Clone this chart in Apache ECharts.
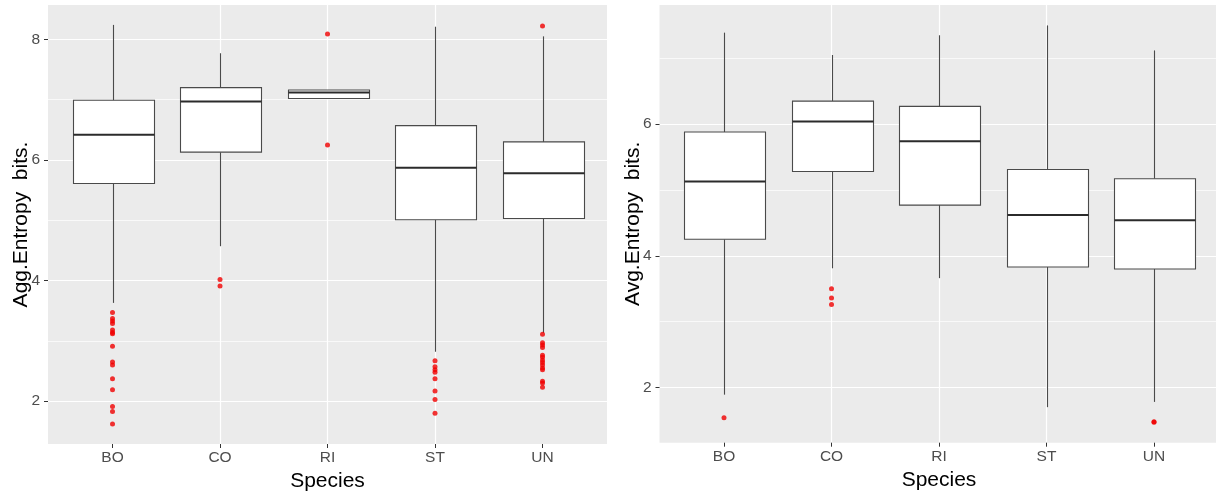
<!DOCTYPE html>
<html>
<head>
<meta charset="utf-8">
<script src="https://cdn.jsdelivr.net/npm/echarts@6/dist/echarts.min.js"></script>
<style>
html,body{margin:0;padding:0;background:#fff;}
#chart{width:1216px;height:492px;}
</style>
</head>
<body>
<div id="chart"></div>
<script>
// ---------- data ----------
const categories = ['BO', 'CO', 'RI', 'ST', 'UN'];
const yTicksAgg = [2, 4, 6, 8];
const yTicksAvg = [2, 4, 6];

// Left panel: Agg.Entropy
const aggLower  = [3.63, 4.57, 7.02, 2.82, 3.13];
const aggQ1     = [5.61, 6.13, 7.02, 5.01, 5.03];
const aggMedian = [6.42, 6.97, 7.12, 5.87, 5.78];
const aggQ3     = [6.99, 7.20, 7.16, 6.57, 6.30];
const aggUpper  = [8.24, 7.77, 7.16, 8.21, 8.05];
const aggOutliers = [
  [3.47, 3.37, 3.33, 3.29, 3.18, 3.14, 3.12, 2.91, 2.65, 2.60, 2.37, 2.19, 1.91, 1.83, 1.62],
  [4.02, 3.91],
  [8.09, 6.25],
  [2.67, 2.57, 2.52, 2.48, 2.37, 2.17, 2.03, 1.80],
  [8.22, 3.11, 2.97, 2.93, 2.89, 2.76, 2.73, 2.68, 2.64, 2.60, 2.55, 2.52, 2.33, 2.30, 2.23]
];

// Right panel: Avg.Entropy
const avgLower  = [1.89, 3.81, 3.66, 1.70, 1.78];
const avgQ1     = [4.25, 5.28, 4.77, 3.83, 3.80];
const avgMedian = [5.13, 6.04, 5.74, 4.62, 4.54];
const avgQ3     = [5.88, 6.35, 6.27, 5.31, 5.17];
const avgUpper  = [7.39, 7.05, 7.35, 7.50, 7.12];
const avgOutliers = [
  [1.54],
  [3.50, 3.36, 3.26],
  [],
  [],
  [1.48, 1.47]
];

// ---------- helpers ----------
const FONT = '"Liberation Sans", Arial, sans-serif';
const PANEL = '#ebebeb';

function boxRows(lo, q1, md, q3, hi) {
  return categories.map((c, i) => [i, lo[i], q1[i], md[i], q3[i], hi[i]]);
}
function outlierRows(out) {
  const rows = [];
  out.forEach((arr, i) => arr.forEach(v => rows.push([i, v])));
  return rows;
}
function renderBox(params, api) {
  const x = api.value(0);
  const lo = api.coord([x, api.value(1)]);
  const q1 = api.coord([x, api.value(2)]);
  const md = api.coord([x, api.value(3)]);
  const q3 = api.coord([x, api.value(4)]);
  const hi = api.coord([x, api.value(5)]);
  const w = api.size([0.75, 0])[0];
  const cx = Math.round(lo[0]) + 0.5;
  const left = Math.round(cx - w / 2) + 0.5;
  const right = Math.round(cx + w / 2) + 0.5;
  const line = '#4a4a4a';
  return {
    type: 'group',
    children: [
      {type: 'line', shape: {x1: cx, y1: lo[1], x2: cx, y2: q1[1]}, style: {stroke: line, lineWidth: 1.1}},
      {type: 'line', shape: {x1: cx, y1: q3[1], x2: cx, y2: hi[1]}, style: {stroke: line, lineWidth: 1.1}},
      {type: 'rect', shape: {x: left, y: q3[1], width: right - left, height: q1[1] - q3[1]},
        style: {fill: '#ffffff', stroke: line, lineWidth: 1.1}},
      {type: 'line', shape: {x1: left, y1: md[1], x2: right, y2: md[1]}, style: {stroke: '#2b2b2b', lineWidth: 2}}
    ]
  };
}

function xAxisFor(gridIndex) {
  return {
    type: 'value', gridIndex: gridIndex, min: -0.6, max: 4.6,
    name: 'Species', nameLocation: 'middle', nameGap: 27, nameMoveOverlap: false,
    nameTextStyle: {fontFamily: FONT, fontSize: 21, color: '#000'},
    axisLine: {show: false},
    axisTick: {show: true, length: 4, lineStyle: {color: '#333', width: 1}, customValues: [0, 1, 2, 3, 4]},
    axisLabel: {
      show: true, margin: 6, fontFamily: FONT, fontSize: 15.5, color: '#4d4d4d',
      customValues: [0, 1, 2, 3, 4],
      formatter: v => (Number.isInteger(v) && v >= 0 && v < categories.length) ? categories[v] : ''
    },
    splitLine: {show: true, showMinLine: false, showMaxLine: false, lineStyle: {color: '#ffffff', width: 1.2}}
  };
}
function yAxesFor(gridIndex, min, max, name, ticks) {
  return [
    {
      type: 'value', gridIndex: gridIndex, min: min, max: max, splitNumber: 6,
      name: name, nameLocation: 'middle', nameGap: 16, nameMoveOverlap: false,
      nameTextStyle: {fontFamily: FONT, fontSize: 21, color: '#000'},
      axisLine: {show: false}, axisTick: {show: false},
      axisLabel: {
        show: true, margin: 8, fontFamily: FONT, fontSize: 15.5, color: '#4d4d4d',
        showMinLabel: false, showMaxLabel: false,
        formatter: v => (ticks.indexOf(v) >= 0 ? String(v) : '')
      },
      splitLine: {show: true, showMinLine: false, showMaxLine: false,
        lineStyle: {color: ['#ffffff', 'rgba(255,255,255,0.7)'], width: 1.2}}
    },
    {
      type: 'value', gridIndex: gridIndex, min: min, max: max, position: 'left',
      axisLine: {show: false}, axisLabel: {show: false}, splitLine: {show: false},
      axisTick: {show: true, length: 4, lineStyle: {color: '#333', width: 1}, customValues: ticks}
    }
  ];
}

const chart = echarts.init(document.getElementById('chart'), null, {renderer: 'canvas'});
chart.setOption({
  backgroundColor: '#ffffff',
  animation: false,
  grid: [
    {left: 48, top: 5, width: 559, height: 439, show: true, backgroundColor: PANEL, borderWidth: 0, outerBoundsMode: 'none'},
    {left: 659.5, top: 5, width: 559, height: 437.7, show: true, backgroundColor: PANEL, borderWidth: 0, outerBoundsMode: 'none'}
  ],
  xAxis: [xAxisFor(0), xAxisFor(1)],
  yAxis: [].concat(
    yAxesFor(0, 1.29, 8.57, 'Agg.Entropy  bits.', yTicksAgg),
    yAxesFor(1, 1.16, 7.81, 'Avg.Entropy  bits.', yTicksAvg)
  ),
  series: [
    {type: 'custom', xAxisIndex: 0, yAxisIndex: 0, renderItem: renderBox,
      encode: {x: 0, y: [1, 2, 3, 4, 5]},
      data: boxRows(aggLower, aggQ1, aggMedian, aggQ3, aggUpper), z: 2},
    {type: 'scatter', xAxisIndex: 0, yAxisIndex: 0, symbolSize: 5,
      itemStyle: {color: '#f00000'}, data: outlierRows(aggOutliers), z: 3},
    {type: 'custom', xAxisIndex: 1, yAxisIndex: 2, renderItem: renderBox,
      encode: {x: 0, y: [1, 2, 3, 4, 5]},
      data: boxRows(avgLower, avgQ1, avgMedian, avgQ3, avgUpper), z: 2},
    {type: 'scatter', xAxisIndex: 1, yAxisIndex: 2, symbolSize: 5,
      itemStyle: {color: '#f00000'}, data: outlierRows(avgOutliers), z: 3}
  ]
});
</script>
</body>
</html>
